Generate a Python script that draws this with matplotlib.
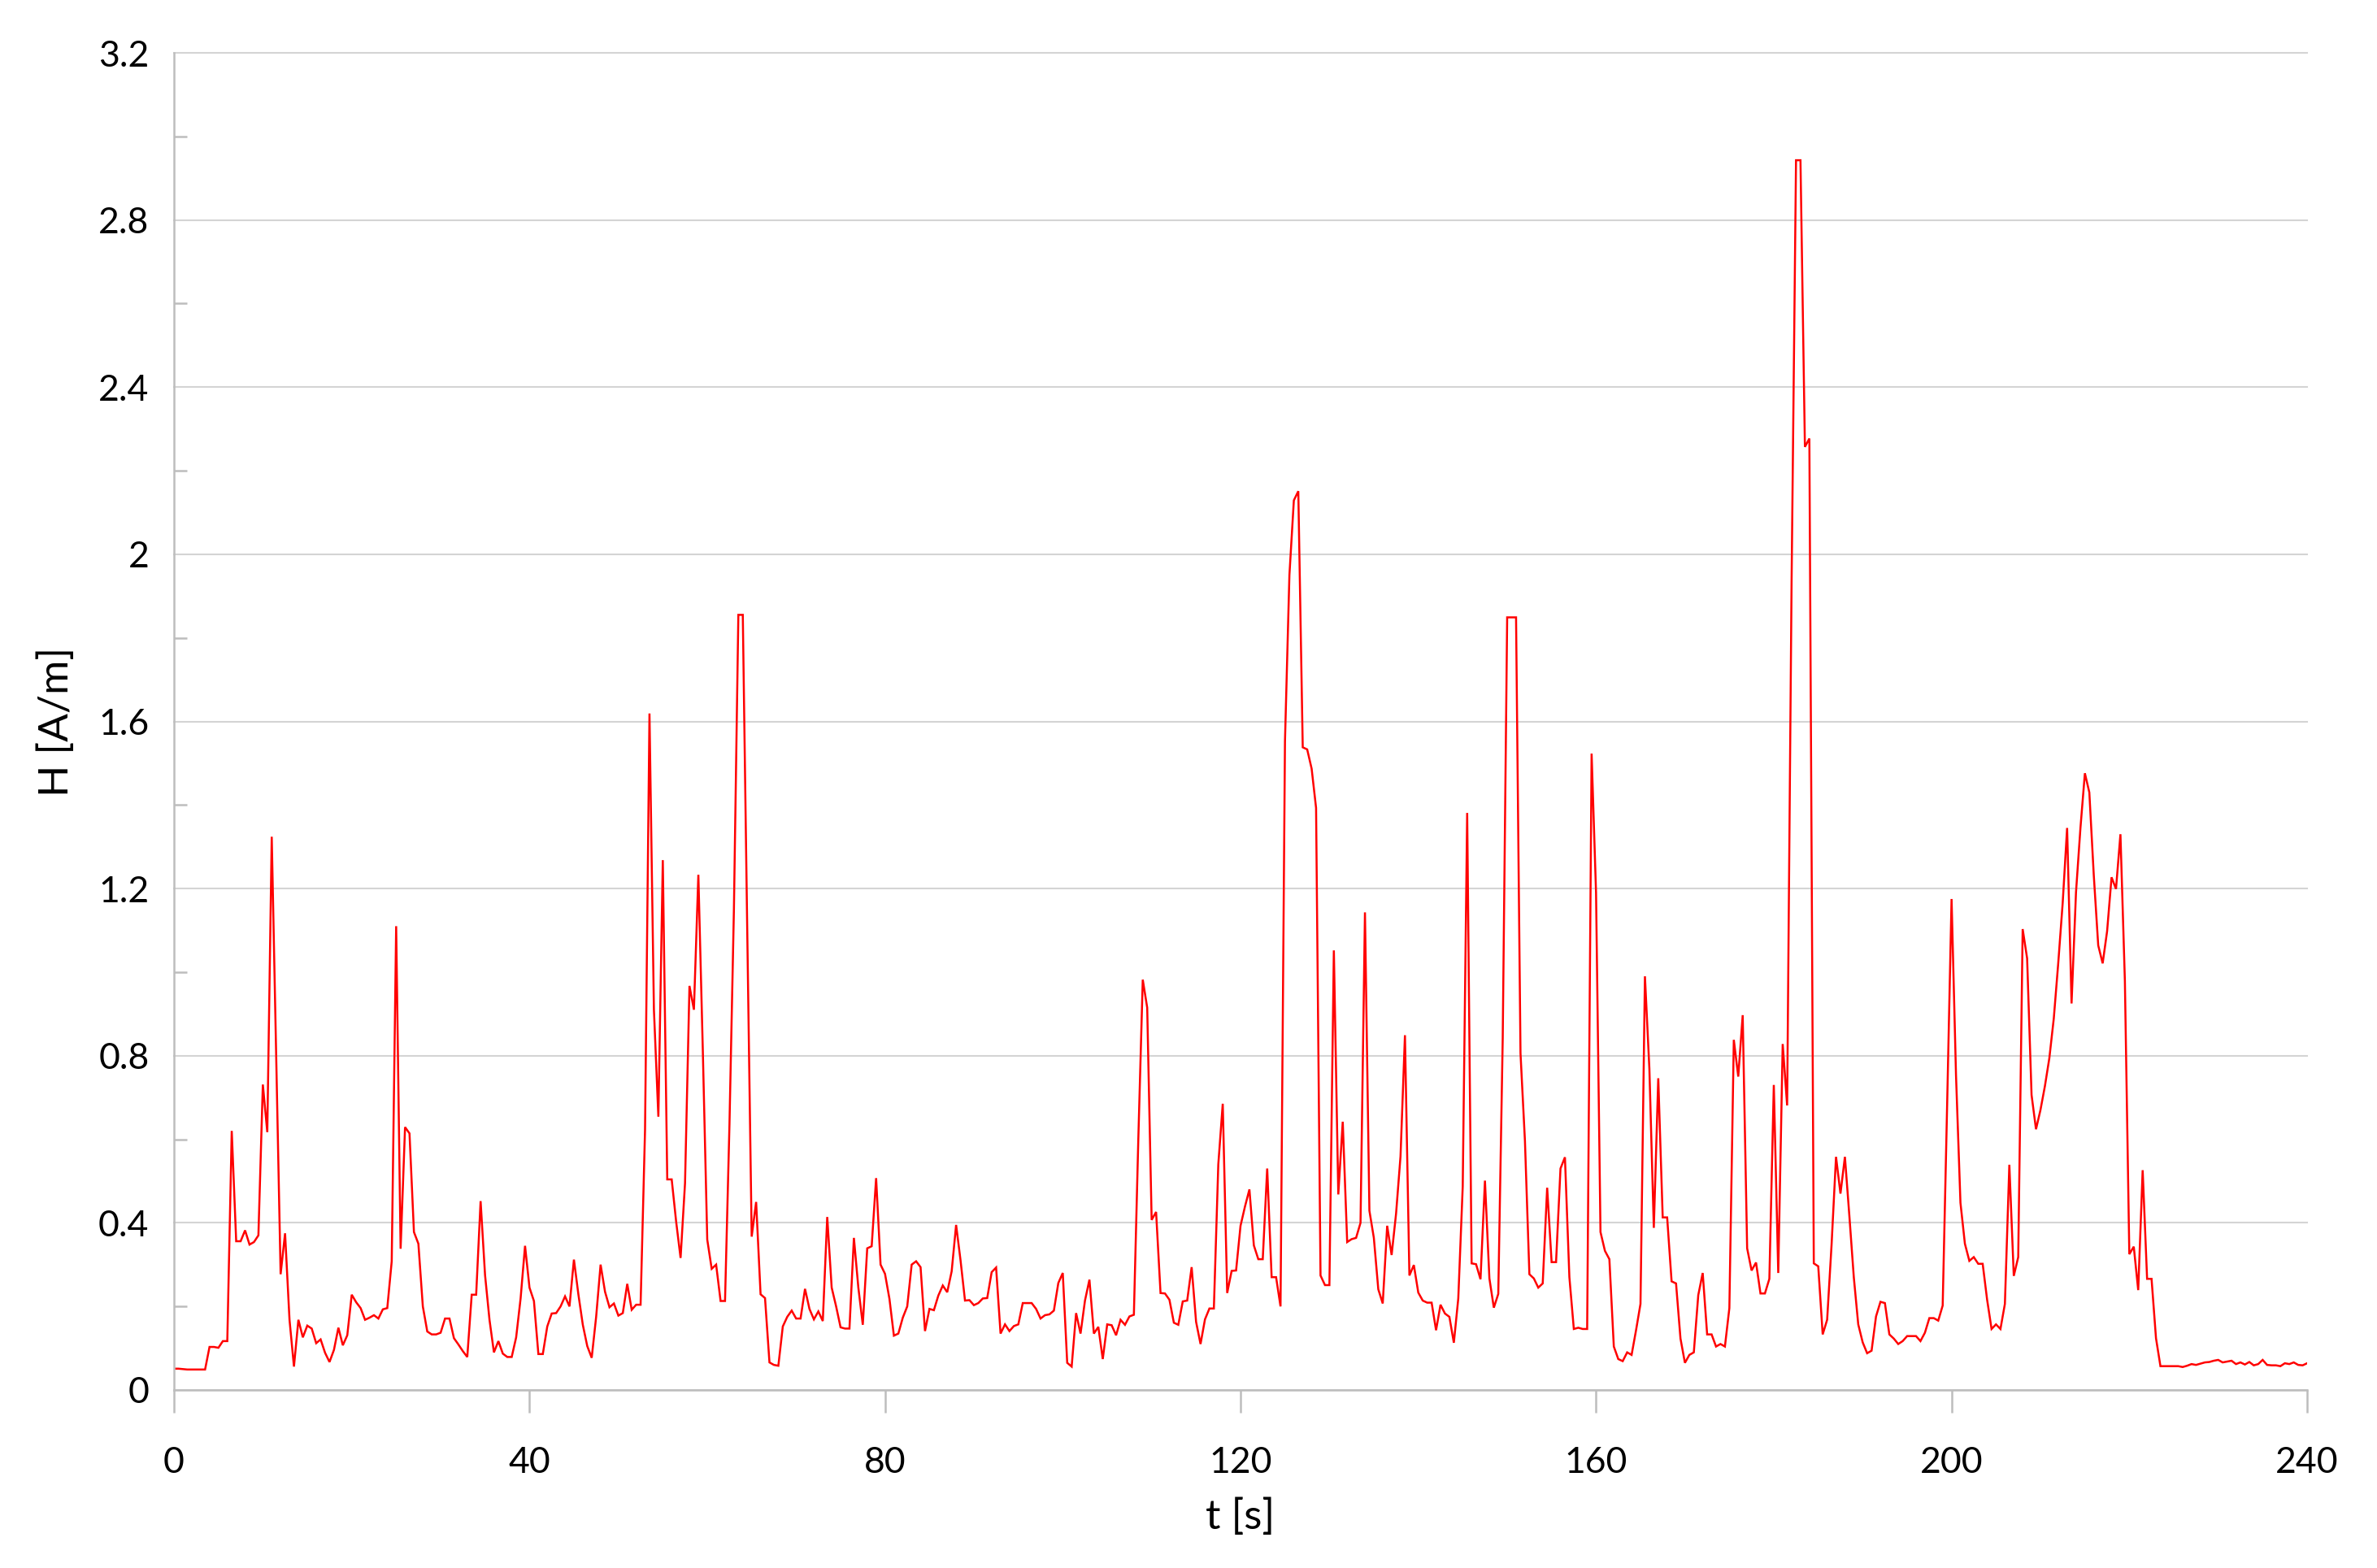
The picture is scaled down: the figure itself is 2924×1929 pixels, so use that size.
import numpy as np
import matplotlib
matplotlib.use("Agg")
import matplotlib.pyplot as plt
from matplotlib.ticker import MultipleLocator, FixedLocator

# Sampling step of the recording (s)
T_STEP = 0.5

# H [A/m], 0.5 s apart, split in 40 s blocks
H_000_040 = [0.051, 0.051, 0.050, 0.049, 0.049, 0.049, 0.049, 0.049,
             0.103, 0.103, 0.101, 0.117, 0.117,
             0.620, 0.356, 0.356, 0.382, 0.348, 0.354, 0.370,
             0.731, 0.617, 1.324, 0.800, 0.277, 0.375, 0.168, 0.056,
             0.168, 0.126, 0.154, 0.147, 0.112, 0.121, 0.089, 0.067,
             0.096, 0.149, 0.107, 0.131, 0.228, 0.210, 0.196, 0.168,
             0.173, 0.179, 0.171, 0.193, 0.196, 0.308, 1.110, 0.338,
             0.629, 0.614, 0.378, 0.350, 0.200, 0.140, 0.133, 0.133,
             0.137, 0.171, 0.171, 0.124, 0.109, 0.093, 0.079, 0.228,
             0.228, 0.452, 0.275, 0.168, 0.090, 0.117, 0.087, 0.079,
             0.079, 0.126, 0.219, 0.345]
H_040_080 = [0.245, 0.213, 0.086, 0.086, 0.152, 0.183, 0.184, 0.200,
             0.224, 0.200, 0.312, 0.229, 0.156, 0.105, 0.077, 0.175,
             0.300, 0.235, 0.198, 0.207, 0.178, 0.184, 0.254, 0.192,
             0.204, 0.204, 0.622, 1.619, 0.910, 0.654, 1.268, 0.504,
             0.504, 0.403, 0.316, 0.495, 0.967, 0.910, 1.233, 0.814,
             0.360, 0.290, 0.300, 0.213, 0.213, 0.635, 1.150, 1.855,
             1.855, 1.100, 0.367, 0.450, 0.229, 0.220, 0.066, 0.060,
             0.058, 0.152, 0.175, 0.190, 0.171, 0.171, 0.242, 0.194,
             0.169, 0.188, 0.165, 0.414, 0.245, 0.200, 0.150, 0.147,
             0.147, 0.364, 0.245, 0.156, 0.339, 0.344, 0.507, 0.300]
H_080_120 = [0.278, 0.218, 0.130, 0.135, 0.173, 0.200, 0.300, 0.308,
             0.294, 0.141, 0.194, 0.191, 0.226, 0.250, 0.234, 0.284,
             0.395, 0.310, 0.214, 0.215, 0.203, 0.208, 0.219, 0.220,
             0.282, 0.293, 0.135, 0.157, 0.141, 0.153, 0.157, 0.208,
             0.208, 0.208, 0.194, 0.171, 0.179, 0.181, 0.190, 0.256,
             0.280, 0.065, 0.056, 0.184, 0.135, 0.214, 0.264, 0.135,
             0.151, 0.074, 0.157, 0.155, 0.131, 0.168, 0.156, 0.176,
             0.180, 0.600, 0.982, 0.915, 0.407, 0.426, 0.232, 0.231,
             0.216, 0.161, 0.156, 0.212, 0.214, 0.294, 0.163, 0.110,
             0.169, 0.195, 0.195, 0.540, 0.685, 0.232, 0.285, 0.286]
H_120_160 = [0.393, 0.439, 0.480, 0.346, 0.313, 0.313, 0.530, 0.270,
             0.270, 0.200, 1.552, 1.950, 2.129, 2.151, 1.538, 1.533,
             1.487, 1.393, 0.274, 0.251, 0.251, 1.052, 0.468, 0.642,
             0.354, 0.361, 0.364, 0.400, 1.143, 0.429, 0.364, 0.241,
             0.207, 0.393, 0.323, 0.422, 0.559, 0.849, 0.274, 0.299,
             0.233, 0.214, 0.209, 0.209, 0.143, 0.204, 0.183, 0.175,
             0.113, 0.219, 0.487, 1.381, 0.303, 0.301, 0.265, 0.501,
             0.267, 0.197, 0.230, 0.842, 1.849, 1.849, 1.849, 0.806,
             0.596, 0.277, 0.267, 0.245, 0.255, 0.484, 0.306, 0.306,
             0.530, 0.557, 0.270, 0.146, 0.149, 0.146, 0.146, 1.523]
H_160_200 = [1.190, 0.378, 0.333, 0.313, 0.104, 0.074, 0.069, 0.090,
             0.084, 0.143, 0.206, 0.990, 0.769, 0.388, 0.746, 0.413,
             0.413, 0.260, 0.255, 0.123, 0.065, 0.084, 0.090, 0.227,
             0.280, 0.133, 0.133, 0.104, 0.110, 0.104, 0.196, 0.838,
             0.750, 0.897, 0.339, 0.286, 0.305, 0.231, 0.231, 0.266,
             0.730, 0.280, 0.828, 0.681, 1.934, 2.943, 2.943, 2.257,
             2.277, 0.303, 0.296, 0.133, 0.168, 0.348, 0.558, 0.470,
             0.558, 0.417, 0.270, 0.157, 0.114, 0.088, 0.094, 0.176,
             0.211, 0.208, 0.133, 0.123, 0.110, 0.117, 0.129, 0.129,
             0.129, 0.117, 0.137, 0.172, 0.172, 0.166, 0.202, 0.681]
H_200_240 = [1.175, 0.753, 0.448, 0.350, 0.309, 0.318, 0.302, 0.302,
             0.216, 0.146, 0.157, 0.146, 0.206, 0.539, 0.273, 0.318,
             1.103, 1.033, 0.706, 0.624, 0.670, 0.727, 0.794, 0.889,
             1.021, 1.165, 1.345, 0.925, 1.191, 1.345, 1.476, 1.430,
             1.232, 1.064, 1.021, 1.098, 1.227, 1.199, 1.330, 0.979,
             0.325, 0.343, 0.239, 0.526, 0.266, 0.266, 0.124, 0.057,
             0.057, 0.057, 0.057, 0.057, 0.055, 0.058, 0.062, 0.060,
             0.063, 0.066, 0.067, 0.070, 0.072, 0.066, 0.068, 0.070,
             0.062, 0.066, 0.061, 0.067, 0.059, 0.062, 0.072, 0.060,
             0.059, 0.059, 0.057, 0.064, 0.062, 0.066, 0.060, 0.059,
             0.064]

X_TICKS = [0, 40, 80, 120, 160, 200, 240]
Y_TICKS = [0, 0.4, 0.8, 1.2, 1.6, 2, 2.4, 2.8, 3.2]
Y_TICK_LABELS = ["0", "0.4", "0.8", "1.2", "1.6", "2", "2.4", "2.8", "3.2"]
X_LABEL = "t [s]"
Y_LABEL = "H [A/m]"

h = np.array(H_000_040 + H_040_080 + H_080_120 + H_120_160 + H_160_200 + H_200_240)
t = np.arange(len(h)) * T_STEP

plt.rcParams['font.family'] = ['Lato', 'DejaVu Sans']

fig = plt.figure(figsize=(29.24, 19.29), dpi=100)
ax = fig.add_axes([214 / 2924, 1 - 1710 / 1929, 2624 / 2924, 1645 / 1929])

ax.plot(t, h, color='#FF0000', lw=1.8, solid_joinstyle='miter')

ax.set_xlim(0, 240)
ax.set_ylim(0, 3.2)
ax.xaxis.set_major_locator(FixedLocator(X_TICKS))
ax.set_yticks(Y_TICKS)
ax.set_yticklabels(Y_TICK_LABELS)
ax.yaxis.set_minor_locator(MultipleLocator(0.2))

axis_gray = '#BDBDBD'
grid_gray = '#D4D4D4'
ax.grid(axis='y', which='major', color=grid_gray, lw=1.5)
for gl in ax.get_ygridlines():
    gl.set_clip_on(False)
ax.set_axisbelow(True)

for s in ['top', 'right']:
    ax.spines[s].set_visible(False)
for s in ['left', 'bottom']:
    ax.spines[s].set_color(axis_gray)
    ax.spines[s].set_linewidth(1.8)

ax.tick_params(axis='x', which='major', direction='out', length=20, width=1.8,
               color=axis_gray, labelsize=32, pad=30, labelcolor='black')
ax.tick_params(axis='y', which='major', length=0, labelsize=32, pad=22,
               labelcolor='black')
ax.tick_params(axis='y', which='minor', direction='in', length=11.5, width=1.8,
               color=axis_gray)

ax.set_xlabel(X_LABEL, fontsize=37)
ax.set_ylabel(Y_LABEL, fontsize=37)
ax.xaxis.set_label_coords(0.5, -0.081)
ax.yaxis.label.set_verticalalignment('center')
ax.yaxis.set_label_coords(-0.0549, 0.5)

fig.savefig('out.png', dpi=100, facecolor='white')
